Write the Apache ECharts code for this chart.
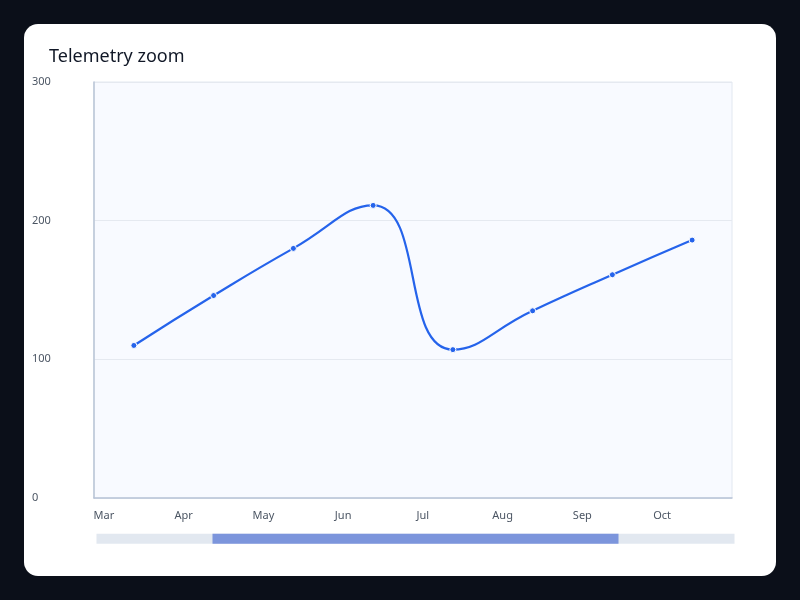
<!DOCTYPE html>
<html><head><meta charset="utf-8">
<script src="https://cdn.jsdelivr.net/npm/echarts@6/dist/echarts.min.js"></script>
<style>html,body{margin:0;background:#0b0f19;}#card{position:absolute;left:24px;top:24px;width:752px;height:552px;background:#fff;border-radius:14px;}#c{position:absolute;left:0;top:0;width:800px;height:600px;}</style>
</head><body><div id="card"></div><div id="c"></div>
<script>
const months = ['Jan','Feb','Mar','Apr','May','Jun','Jul','Aug','Sep','Oct','Nov','Dec'];
const values = [85, 98, 110, 146, 180, 211, 107, 135, 161, 186, 196, 205];
const yTicks = [0, 100, 200, 300];
const chart = echarts.init(document.getElementById('c'));
chart.setOption({
  title:{text:'Telemetry zoom',left:44,top:43,textStyle:{fontFamily:'Noto Sans',fontSize:18,fontWeight:'normal',color:'#111827'}},
  grid:{left:94,right:68,top:82,bottom:102,show:true,backgroundColor:'#f8faff',borderColor:'#e2e8f0'},
  xAxis:{type:'category',data:months,axisLine:{lineStyle:{color:'#b8c4d6',width:1.5}},axisTick:{show:false},
    axisLabel:{color:'#4b5563',fontFamily:'Noto Sans',fontSize:11,margin:12,padding:[0,60,0,0]}},
  yAxis:{type:'value',min:yTicks[0],max:yTicks[yTicks.length-1],interval:100,
    axisLine:{show:true,lineStyle:{color:'#b8c4d6',width:1.5}},
    splitLine:{lineStyle:{color:'#e5e9f0'}},
    axisLabel:{color:'#4b5563',fontFamily:'Noto Sans',fontSize:11,align:'left',margin:62}},
  dataZoom:[{type:'slider',xAxisIndex:0,startValue:2,endValue:9,left:94,right:68,bottom:57,height:10,
    showDetail:false,handleSize:0,moveHandleSize:0,brushSelect:false,borderColor:'transparent',
    backgroundColor:'#e2e8f0',fillerColor:'rgba(106,134,216,0.85)',
    dataBackground:{lineStyle:{opacity:0},areaStyle:{opacity:0}},
    selectedDataBackground:{lineStyle:{opacity:0},areaStyle:{opacity:0}},
    handleStyle:{opacity:0}}],
  series:[{type:'line',data:values,smooth:0.5,symbol:'circle',symbolSize:6,
    lineStyle:{color:'#2563eb',width:2.2},itemStyle:{color:'#2563eb',borderColor:'#fff',borderWidth:1}}]
});
</script></body></html>
